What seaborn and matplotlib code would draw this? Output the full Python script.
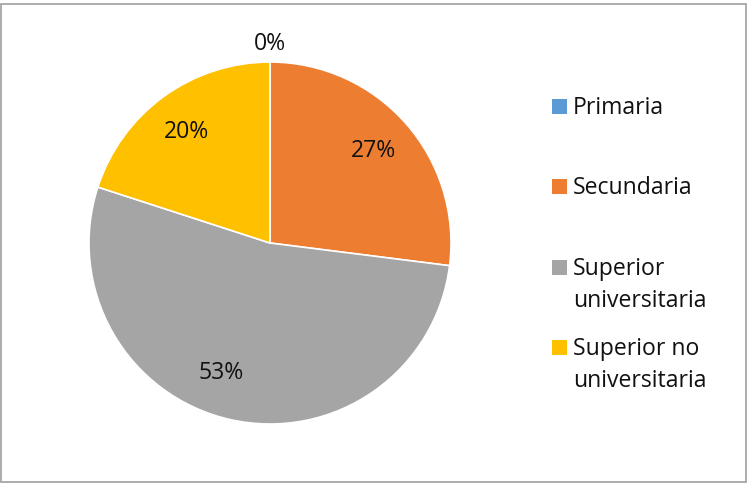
import matplotlib
matplotlib.use("Agg")
import matplotlib.pyplot as plt
from matplotlib.patches import Rectangle
import numpy as np
import seaborn as sns

# Nivel educativo alcanzado (porcentajes)
categorias = ["Primaria", "Secundaria", "Superior universitaria", "Superior no universitaria"]
etiquetas_leyenda = ["Primaria", "Secundaria", "Superior\nuniversitaria", "Superior no\nuniversitaria"]
porcentajes = [0, 27, 53, 20]
colores = ["#5B9BD5", "#ED7D31", "#A5A5A5", "#FFC000"]

sns.set_theme(style="white")
plt.rcParams["font.family"] = ["Open Sans", "DejaVu Sans"]

W, H = 747, 483
fig = plt.figure(figsize=(W / 100, H / 100), dpi=100)
fig.patch.set_facecolor("white")


def fx(px):
    return px / W


def fy(py):
    return (H - py) / H


FS = 16.6
TXT = "#111111"

# Pie axes: centre (270, 243) px, radius 181 px
cx, cy, r = 270, 243, 181
ax = fig.add_axes([fx(cx - r), fy(cy + r), 2 * r / W, 2 * r / H])

wedges, _ = ax.pie(
    porcentajes,
    colors=colores,
    startangle=90,
    counterclock=False,
    radius=1,
    wedgeprops=dict(edgecolor="white", linewidth=1.2),
)
ax.set_xlim(-1, 1)
ax.set_ylim(-1, 1)
ax.set_aspect("auto")
ax.axis("off")

# Percentage labels inside each slice (small angular nudges keep them clear);
# an empty slice gets its label just outside the rim
nudge_deg = [0, 0, -8, 1]
for w, val, nd in zip(wedges, porcentajes, nudge_deg):
    ang = np.deg2rad((w.theta1 + w.theta2) / 2 + nd)
    d = 1.10 if val == 0 else 0.765
    ax.text(d * np.cos(ang), d * np.sin(ang), f"{val}%",
            ha="center", va="center", fontsize=FS, color=TXT)

# Legend on the right: square key aligned with the first text line
tops = [99, 179, 260, 340]
line_step = 32
for lab, col, top in zip(etiquetas_leyenda, colores, tops):
    fig.add_artist(Rectangle((fx(552), fy(top + 15)), 15 / W, 15 / H,
                             transform=fig.transFigure, facecolor=col,
                             edgecolor="none"))
    for i, line in enumerate(lab.split("\n")):
        fig.text(fx(573), fy(top + 15 + i * line_step), line, ha="left",
                 va="baseline", fontsize=FS, color=TXT)

# Chart frame
fig.add_artist(Rectangle((fx(1), fy(481.8)), (745 / W), (478.3 / H),
                         transform=fig.transFigure, facecolor="none",
                         edgecolor="#A6A6A6", linewidth=1.3))

fig.savefig("out.png", dpi=100, facecolor="white")
